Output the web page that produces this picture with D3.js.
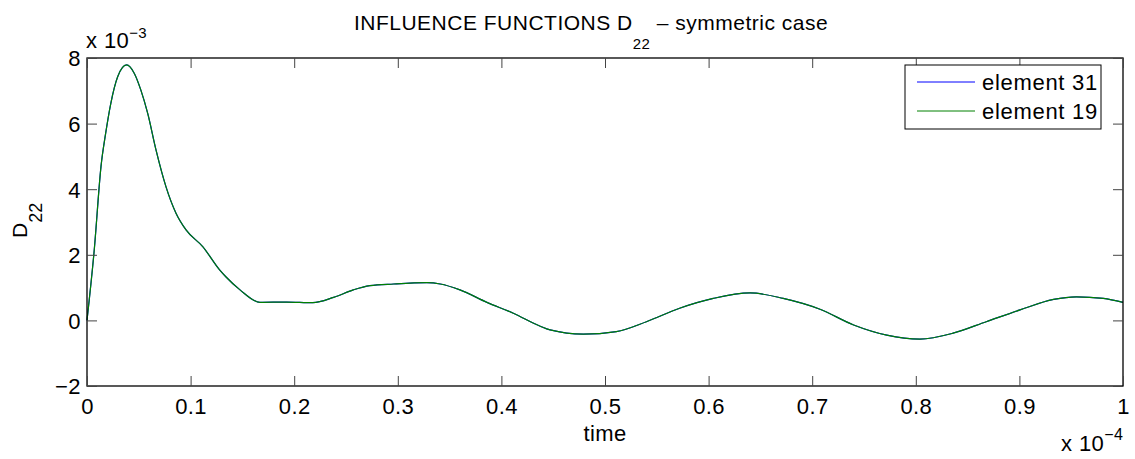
<!DOCTYPE html>
<html><head><meta charset="utf-8">
<script src="https://cdn.jsdelivr.net/npm/d3@7"></script>
<style>
body{margin:0;background:#fff;}
text{font-family:"Liberation Sans",Arial,Helvetica,sans-serif;fill:#000;}
</style></head>
<body><svg id="c" width="1135" height="459"></svg>
<script>
// time in units of 1e-4, D22 in units of 1e-3
const time = [0,0.007,0.0135,0.018,0.023,0.0296,0.0382,0.0457,0.052,0.0586,0.0666,0.0762,0.0859,0.0956,0.1117,0.128,0.134,0.1477,0.167,0.1927,0.218,0.238,0.257,0.273,0.296,0.328,0.341,0.36,0.386,0.4115,0.437,0.447,0.479,0.511,0.54,0.572,0.6045,0.64,0.672,0.7075,0.74,0.772,0.804,0.836,0.868,0.9006,0.933,0.955,0.981,1.0];
const element31 = [0,2.15,4.69,5.70,6.62,7.43,7.79,7.53,7.02,6.31,5.20,4.08,3.27,2.76,2.25,1.54,1.33,0.93,0.55,0.56,0.54,0.70,0.93,1.06,1.11,1.15,1.11,0.93,0.55,0.22,-0.17,-0.29,-0.42,-0.34,-0.04,0.37,0.67,0.84,0.67,0.34,-0.14,-0.45,-0.57,-0.39,-0.04,0.32,0.64,0.72,0.67,0.55];
const element19 = element31.slice();
const xTicks = [0,0.1,0.2,0.3,0.4,0.5,0.6,0.7,0.8,0.9,1];
const yTicks = [-2,0,2,4,6,8];
const seriesNames = ["element 31","element 19"];
const seriesColors = ["#0000ff","#008000"];

const L=87, R=1123, T=58, B=386;
const svg = d3.select("#c");
const x = d3.scaleLinear().domain([0,1]).range([L,R]);
const y = d3.scaleLinear().domain([-2,8]).range([B,T]);
const fs = 22;
const ls = "0.4px";

const line = d3.line().x((d,i)=>x(time[i])).y(d=>y(d)).curve(d3.curveMonotoneX);
[element31,element19].forEach((s,k)=>{
  svg.append("path").attr("d",line(s)).attr("fill","none")
    .attr("stroke",seriesColors[k]).attr("stroke-width",1.2);
});

// frame
svg.append("rect").attr("x",L).attr("y",T).attr("width",R-L).attr("height",B-T)
  .attr("fill","none").attr("stroke","#000").attr("stroke-width",1.3);

// axes
const ax = d3.axisBottom(x).tickValues(xTicks).tickSize(-10).tickPadding(12).tickFormat(d=>d3.format("")(+d.toFixed(1)));
const gx = svg.append("g").attr("transform",`translate(0,${B})`).call(ax);
const gxt = svg.append("g").attr("transform",`translate(0,${T})`).call(d3.axisTop(x).tickValues(xTicks).tickSize(-10).tickFormat(""));
const ay = d3.axisLeft(y).tickValues(yTicks).tickSize(-10).tickPadding(6).tickFormat(d=>d<0?"\u2212"+(-d):d);
const gy = svg.append("g").attr("transform",`translate(${L},0)`).call(ay);
const gyr = svg.append("g").attr("transform",`translate(${R},0)`).call(d3.axisRight(y).tickValues(yTicks).tickSize(-10).tickFormat(""));
[gx,gxt,gy,gyr].forEach(g=>{
  g.select(".domain").remove();
  g.selectAll(".tick line").attr("stroke","#444").attr("stroke-width",1);
  g.selectAll("text").attr("font-size",fs).attr("letter-spacing",ls).attr("font-family","Liberation Sans, Arial, sans-serif").attr("fill","#000");
});
gy.selectAll("text").attr("dy","0.36em");

// title
const title = svg.append("text").attr("x",591).attr("y",30).attr("text-anchor","middle").attr("font-size",21).attr("letter-spacing","0.5px");
title.append("tspan").text("INFLUENCE FUNCTIONS D");
title.append("tspan").attr("dy",19).attr("font-size",15).text("22");
title.append("tspan").attr("dy",-19).text(" \u2013 symmetric case");

// y label
const yl = svg.append("text").attr("transform","translate(27,238) rotate(-90)").attr("font-size",21);
yl.append("tspan").text("D");
yl.append("tspan").attr("dy",15).attr("font-size",18).text("22");

// x label
svg.append("text").attr("x",605).attr("y",441).attr("text-anchor","middle").attr("font-size",fs).attr("letter-spacing",ls).text("time");

// multipliers
const m1 = svg.append("text").attr("x",86).attr("y",48).attr("font-size",fs).attr("letter-spacing",ls);
m1.append("tspan").text("x 10");
m1.append("tspan").attr("dy",-10).attr("font-size",15).text("\u22123");
const m2 = svg.append("text").attr("x",1061).attr("y",451).attr("font-size",fs).attr("letter-spacing",ls);
m2.append("tspan").text("x 10");
m2.append("tspan").attr("dy",-11).attr("font-size",16).text("\u22124");

// legend
const lg = svg.append("g");
lg.append("rect").attr("x",905).attr("y",65).attr("width",196).attr("height",64)
  .attr("fill","#fff").attr("stroke","#000").attr("stroke-width",1);
seriesNames.forEach((n,k)=>{
  const yy = 82 + k*29;
  lg.append("line").attr("x1",917).attr("x2",975).attr("y1",yy).attr("y2",yy)
    .attr("stroke",seriesColors[k]).attr("stroke-width",1);
  lg.append("text").attr("x",982).attr("y",yy).attr("dy","0.36em").attr("font-size",fs).attr("letter-spacing","0.7px").text(n);
});
</script></body></html>
